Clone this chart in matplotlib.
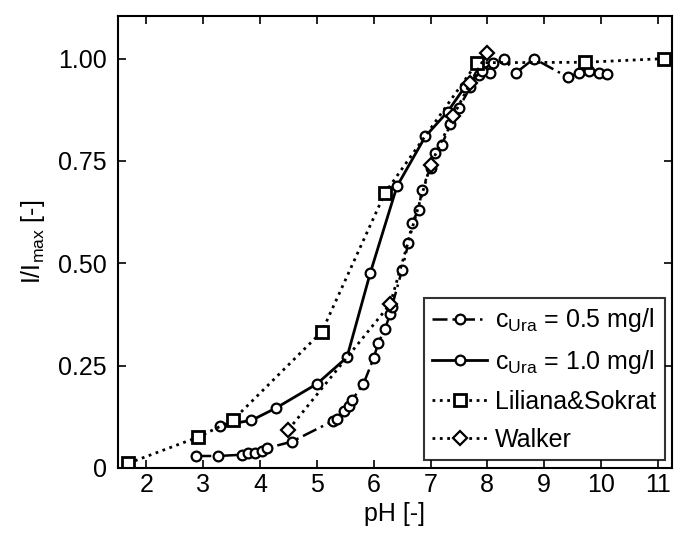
import matplotlib
matplotlib.use('Agg')
import matplotlib.pyplot as plt

plt.rcParams['font.family'] = ['Liberation Sans', 'DejaVu Sans']
plt.rcParams['mathtext.fontset'] = 'custom'
plt.rcParams['mathtext.rm'] = 'Liberation Sans'
plt.rcParams['mathtext.it'] = 'Liberation Sans'

# c_Ura = 0.5 mg/l
ph_05 = [2.88, 3.26, 3.68, 3.79, 3.91, 4.03, 4.12, 4.56, 5.29, 5.35, 5.47, 5.56, 5.62,
         5.82, 6.0, 6.08, 6.2, 6.29, 6.32, 6.5, 6.61, 6.67, 6.79, 6.85, 7.0, 7.08, 7.2,
         7.35, 7.5, 7.7, 7.85, 8.05, 8.29, 8.5, 8.82, 9.41, 9.61, 9.79, 9.96, 10.11]
i_05 = [0.029, 0.029, 0.032, 0.036, 0.037, 0.042, 0.048, 0.064, 0.115, 0.12, 0.138, 0.15, 0.166,
        0.205, 0.268, 0.305, 0.339, 0.377, 0.394, 0.484, 0.549, 0.598, 0.631, 0.68, 0.733, 0.77, 0.79,
        0.84, 0.88, 0.93, 0.96, 0.965, 1.0, 0.965, 1.0, 0.955, 0.965, 0.97, 0.965, 0.962]

# c_Ura = 1.0 mg/l
ph_10 = [3.29, 3.85, 4.28, 5.0, 5.53, 5.94, 6.41, 6.91, 7.3, 7.6, 7.9, 8.1]
i_10 = [0.103, 0.116, 0.146, 0.205, 0.27, 0.476, 0.688, 0.81, 0.87, 0.93, 0.97, 0.99]

# Liliana&Sokrat
ph_ls = [1.68, 2.91, 3.52, 5.09, 6.2, 7.82, 9.72, 11.11]
i_ls = [0.011, 0.075, 0.116, 0.333, 0.672, 0.99, 0.991, 1.0]

# Walker
ph_wk = [4.5, 6.29, 7.0, 7.4, 7.7, 8.0]
i_wk = [0.093, 0.40, 0.74, 0.86, 0.94, 1.014]

fig = plt.figure(figsize=(6.81, 5.39), dpi=100)
ax = fig.add_axes([0.173, 0.132, 0.814, 0.839])

fs = 18
ax.plot(ph_05, i_05, linestyle=(0, (6, 2, 1, 2)), color='black', lw=1.8,
        marker='o', ms=7, mfc='white', mec='black', mew=1.6,
        label=r'c$_{\mathrm{Ura}}$ = 0.5 mg/l')
ax.plot(ph_10, i_10, linestyle='-', color='black', lw=2,
        marker='o', ms=7, mfc='white', mec='black', mew=1.6,
        label=r'c$_{\mathrm{Ura}}$ = 1.0 mg/l')
ax.plot(ph_ls, i_ls, linestyle=':', color='black', lw=2,
        marker='s', ms=9, mfc='white', mec='black', mew=2,
        label='Liliana&Sokrat')
ax.plot(ph_wk, i_wk, linestyle=':', color='black', lw=2,
        marker='D', ms=7, mfc='white', mec='black', mew=1.6,
        label='Walker')

ax.set_xlim(1.5, 11.25)
ax.set_ylim(0, 1.105)
ax.set_xticks(range(2, 12))
ax.set_yticks([0, 0.25, 0.5, 0.75, 1.0])
ax.set_yticklabels(['0', '0.25', '0.50', '0.75', '1.00'])
ax.tick_params(direction='in', top=True, right=True, labelsize=fs, length=6, width=1.2)
ax.tick_params(axis='y', pad=8)
for s in ax.spines.values():
    s.set_linewidth(1.5)

ax.set_xlabel('pH [-]', fontsize=fs, labelpad=4)
ax.set_ylabel(r'I/I$_{\mathrm{max}}$ [-]', fontsize=fs, labelpad=8)

leg = ax.legend(loc='lower right', fontsize=fs, frameon=True, fancybox=False,
                edgecolor='black', handlelength=2.2, handletextpad=0.3,
                borderpad=0.35, labelspacing=0.55, borderaxespad=0.3)
leg.get_frame().set_linewidth(1.5)

fig.savefig('out.png', dpi=100)
